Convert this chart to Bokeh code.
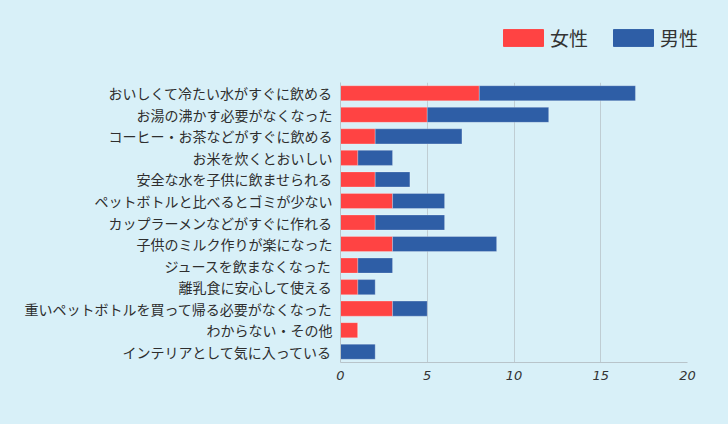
from bokeh.plotting import figure
from bokeh.layouts import column
from bokeh.models import FactorRange, Range1d, Legend, LegendItem, FixedTicker, ColumnDataSource
from bokeh.embed import file_html
from bokeh.resources import INLINE

categories = [
    "おいしくて冷たい水がすぐに飲める",
    "お湯の沸かす必要がなくなった",
    "コーヒー・お茶などがすぐに飲める",
    "お米を炊くとおいしい",
    "安全な水を子供に飲ませられる",
    "ペットボトルと比べるとゴミが少ない",
    "カップラーメンなどがすぐに作れる",
    "子供のミルク作りが楽になった",
    "ジュースを飲まなくなった",
    "離乳食に安心して使える",
    "重いペットボトルを買って帰る必要がなくなった",
    "わからない・その他",
    "インテリアとして気に入っている",
]
female = [8, 5, 2, 1, 2, 3, 2, 3, 1, 1, 3, 1, 0]
male = [9, 7, 5, 2, 2, 3, 4, 6, 2, 1, 2, 0, 2]
series_names = ["女性", "男性"]
x_ticks = [0, 5, 10, 15, 20]

BG = "#d8f0f8"
RED = "#ff4343"
BLUE = "#2e5ea6"
FONT = "Noto Sans CJK JP"

source = ColumnDataSource(dict(cat=categories, f=female, m=male))

# legend strip
lf = figure(frame_width=728, frame_height=82, output_backend="svg", toolbar_location=None,
            x_range=Range1d(0, 1), y_range=Range1d(0, 1),
            x_axis_type=None, y_axis_type=None,
            min_border_left=0, min_border_right=0, min_border_top=0, min_border_bottom=0)
lf.background_fill_color = BG
lf.border_fill_color = BG
lf.outline_line_color = None
lf.grid.visible = False
d0 = lf.rect(x=[-5], y=[-5], width=1, height=1, color=RED)
d1 = lf.rect(x=[-5], y=[-5], width=1, height=1, color=BLUE)
legend = Legend(items=[LegendItem(label=series_names[0], renderers=[d0]),
                       LegendItem(label=series_names[1], renderers=[d1])],
                orientation="horizontal", location=(498, 31),
                glyph_width=50, glyph_height=21, label_text_font=FONT,
                label_text_font_size="19px", label_text_color="#333333",
                background_fill_alpha=0, border_line_color=None,
                spacing=20, label_standoff=2, margin=0, padding=0)
lf.add_layout(legend, "center")

p = figure(frame_width=347, frame_height=280, output_backend="svg", toolbar_location=None,
           y_range=FactorRange(factors=list(reversed(categories)), range_padding=0.0),
           x_range=Range1d(0, 20),
           min_border_left=340, min_border_right=41, min_border_top=0, min_border_bottom=62)
p.background_fill_color = BG
p.border_fill_color = BG
p.outline_line_color = None

r = p.hbar_stack(["f", "m"], y="cat", height=0.7, color=[RED, BLUE], source=source,
                 line_color="#ffffff", line_alpha=0.25, line_width=1)

p.xaxis.ticker = FixedTicker(ticks=x_ticks)
p.xgrid.ticker = FixedTicker(ticks=x_ticks[1:])
p.xgrid.grid_line_color = "#bfcdd3"
p.ygrid.grid_line_color = None
p.xaxis.axis_line_color = "#b8c4ca"
p.yaxis.axis_line_color = "#b8c4ca"
p.xaxis.major_tick_line_color = None
p.xaxis.minor_tick_line_color = None
p.yaxis.major_tick_line_color = None
p.yaxis.minor_tick_line_color = None
p.xaxis.major_label_text_font = "DejaVu Sans"
p.xaxis.major_label_text_font_style = "italic"
p.xaxis.major_label_text_font_size = "13px"
p.xaxis.major_label_text_color = "#333333"
p.xaxis.major_label_standoff = 2
p.yaxis.major_label_text_font = FONT
p.yaxis.major_label_text_font_size = "14px"
p.yaxis.major_label_text_color = "#2e2e2e"
p.yaxis.major_label_standoff = 2

layout = column(lf, p, spacing=0)
html = file_html(layout, INLINE)
html = html.replace("<head>", "<head><style>body{background:%s;}</style>" % BG, 1)
open("out.html", "w").write(html)
